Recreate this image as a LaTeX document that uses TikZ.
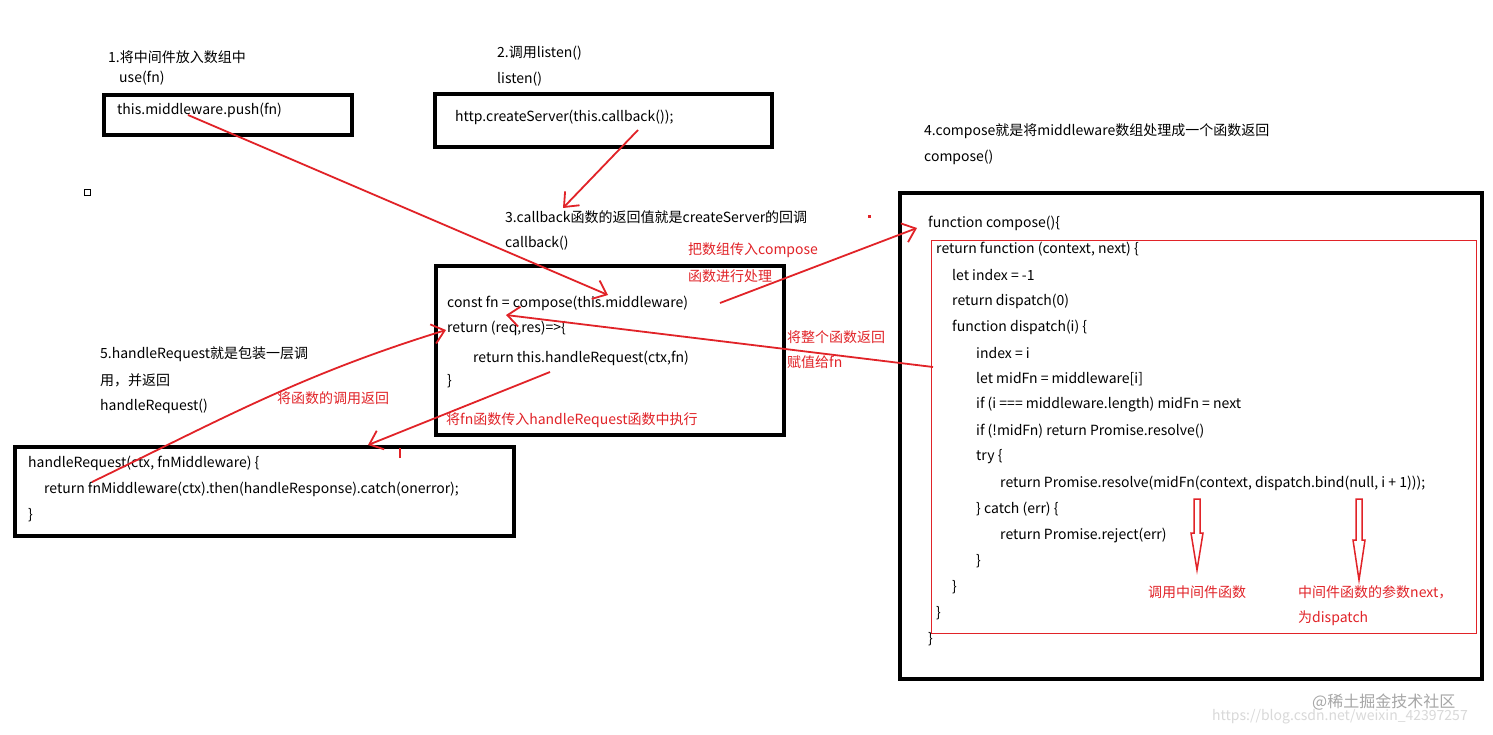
\documentclass[tikz,border=0pt]{standalone}
\usepackage{fontspec}
\setmainfont{Noto Sans CJK SC}
\usetikzlibrary{arrows.meta}
\definecolor{rd}{RGB}{225,35,40}
\begin{document}
\begin{tikzpicture}[x=1pt,y=-1pt,
 t/.style={anchor=west,inner sep=0pt,font=\fontsize{14}{15}\selectfont},
 r/.style={t,text=rd},
 box/.style={draw=black,line width=3.2pt},
 arr/.style={draw=rd,line width=1.8pt,-{Straight Barb[length=12pt,width=20pt]}},
 hol/.style={draw=rd,line width=1.5pt,fill=white}]
\useasboundingbox (0,0) rectangle (1493,734);
\fill[white] (0,0) rectangle (1493,734);
% boxes
\draw[box] (104,95) rectangle (352,135);
\draw[box] (435,94) rectangle (772,147);
\draw[box] (436,266) rectangle (784,435);
\draw[box] (15,447) rectangle (514,536);
\draw[box] (900,193) rectangle (1482,679);
\draw[rd,line width=0.9pt] (931,240) rectangle (1476,633);
\draw[line width=0.8pt] (84,189) rectangle (90,195);
\fill[rd] (868,215) rectangle (871,218);
% texts
\node[t] (t1) at (108,57) {1.将中间件放入数组中};
\node[t] (t1b) at (119,78) {use(fn)};
\node[t] (p1) at (117,110) {this.middleware.push(fn)};
\node[t] (t2) at (497,53) {2.调用listen()};
\node[t] (t2b) at (497,79) {listen()};
\node[t] (p2) at (455,117) {http.createServer(this.callback());};
\node[t] (t3) at (505,217) {3.callback函数的返回值就是createServer的回调};
\node[t] (t3b) at (505,243) {callback()};
\node[r] (r1) at (688,250) {把数组传入compose};
\node[r] (r1b) at (688,276) {函数进行处理};
\node[t] (c1) at (447,303) {const fn = compose(this.middleware)};
\node[t] (c2) at (447,328) {return (req,res)=>\{};
\node[t] (c3) at (473,358) {return this.handleRequest(ctx,fn)};
\node[t] (c4) at (447,381) {\}};
\node[r] (r2) at (446,420) {将fn函数传入handleRequest函数中执行};
\node[t] (t5) at (100,354) {5.handleRequest就是包装一层调};
\node[t] (t5b) at (100,380) {用，并返回};
\node[t] (t5c) at (100,406) {handleRequest()};
\node[r] (r3) at (277,398) {将函数的调用返回};
\node[t] (h1) at (28,463) {handleRequest(ctx, fnMiddleware) \{};
\node[t] (h2) at (44,489) {return fnMiddleware(ctx).then(handleResponse).catch(onerror);};
\node[t] (h3) at (28,515) {\}};
\node[t] (t4) at (924,131) {4.compose就是将middleware数组处理成一个函数返回};
\node[t] (t4b) at (924,157) {compose()};
\node[r] (r4) at (787,337) {将整个函数返回};
\node[r] (r4b) at (787,362) {赋值给fn};
\node[t] (k1) at (928,223) {function compose()\{};
\node[t] (k2) at (936,249) {return function (context, next) \{};
\node[t] (k3) at (952,275) {let index = -1};
\node[t] (k4) at (952,301) {return dispatch(0)};
\node[t] (k5) at (952,327) {function dispatch(i) \{};
\node[t] (k6) at (976,353) {index = i};
\node[t] (k7) at (976,379) {let midFn = middleware[i]};
\node[t] (k8) at (976,405) {if (i === middleware.length) midFn = next};
\node[t] (k9) at (976,431) {if (!midFn) return Promise.resolve()};
\node[t] (k10) at (976,457) {try \{};
\node[t] (k11) at (1000,483) {return Promise.resolve(midFn(context, dispatch.bind(null, i + 1)));};
\node[t] (k12) at (976,509) {\} catch (err) \{};
\node[t] (k13) at (1000,535) {return Promise.reject(err)};
\node[t] (k14) at (976,561) {\}};
\node[t] (k15) at (952,587) {\}};
\node[t] (k16) at (936,613) {\}};
\node[t] (k17) at (928,639) {\}};
\node[r] (r5) at (1148,592) {调用中间件函数};
\node[r] (r6) at (1298,592) {中间件函数的参数next，};
\node[r] (r6b) at (1298,618) {为dispatch};
\node[t,text=black!35,font=\fontsize{16}{16}\selectfont] (w1) at (1312,702) {@稀土掘金技术社区};
\node[t,text=black!15,font=\fontsize{14}{14}\selectfont] (w2) at (1212,717) {https://blog.csdn.net/weixin\_42397257};
% arrows
\coordinate (a1s) at (188,115); \coordinate (a1e) at (608,295);
\coordinate (a2s) at (638,130); \coordinate (a2e) at (563,208);
\coordinate (a3s) at (720,303); \coordinate (a3e) at (917,228);
\coordinate (a4s) at (933,367); \coordinate (a4e) at (506,315);
\coordinate (a5s) at (92,482); \coordinate (a5e) at (446,330);
\coordinate (a6s) at (550,372); \coordinate (a6e) at (368,445);
\draw[arr] (a1s) -- (a1e);
\draw[arr] (a2s) -- (a2e);
\draw[arr] (a3s) -- (a3e);
\draw[arr] (a4s) -- (a4e);
\draw[arr] (a5s) .. controls (220,420) and (300,375) .. (a5e);
\draw[arr] (a6s) -- (a6e);
\draw[draw=rd,line width=1.6pt] (400,458) -- (400,448);
% hollow arrows
\draw[hol] (1194,499) -- (1200,499) -- (1200,533) -- (1203,533) -- (1197,570) -- (1191,533) -- (1194,533) -- cycle;
\draw[hol] (1356,499) -- (1362,499) -- (1362,540) -- (1365,540) -- (1359,580) -- (1353,540) -- (1356,540) -- cycle;
\end{tikzpicture}
\end{document}
